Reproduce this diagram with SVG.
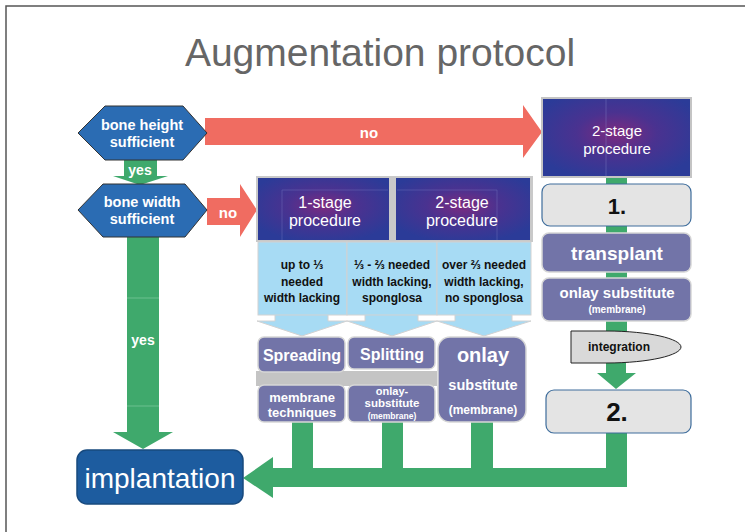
<svg xmlns="http://www.w3.org/2000/svg" width="745" height="532" viewBox="0 0 745 532">
<defs>
<radialGradient id="proc" cx="50%" cy="45%" r="60%">
<stop offset="0" stop-color="#7d2a7f"/>
<stop offset="0.45" stop-color="#4a3290"/>
<stop offset="1" stop-color="#2b3b98"/>
</radialGradient>
</defs>
<style>
text{font-family:"Liberation Sans",Arial,Helvetica,sans-serif;text-anchor:middle;dominant-baseline:central}
.w{fill:#fff;font-weight:bold}
.wn{fill:#fff}
.k{fill:#111;font-weight:bold}
.hex{fill:#2b6cb3;stroke:#333;stroke-width:1}
.green{fill:#3fa96c}
.red{fill:#f06c61}
.proc{fill:url(#proc);stroke:#c4c4c4;stroke-width:2}
.mod{fill:#7274a8;stroke:#d6d6d6;stroke-width:1.5}
.step{fill:#e4e4e4;stroke:#3e6d9c;stroke-width:1.2}
.col{fill:#a7dbf4;stroke:#d2d2d2;stroke-width:1}
</style>
<rect width="745" height="532" fill="#fff"/>
<path d="M6,532 V6 H745" fill="none" stroke="#555" stroke-width="1.5"/>
<text x="380" y="52" style="font-size:39px;fill:#666">Augmentation protocol</text>

<g id="connectors">
<polygon class="red" points="205,118 523,118 523,105 542,132 523,158 523,145 205,145"/>
<text class="w" x="369" y="132" style="font-size:15px">no</text>
<polygon class="green" points="124,160 157,160 157,176 168,176 140,185 113,176 124,176"/>
<text class="w" x="140" y="170" style="font-size:14px">yes</text>
<polygon class="red" points="207,198 240,198 240,184 257,210 240,237 240,225 207,225"/>
<text class="w" x="228" y="212" style="font-size:15px">no</text>
<polygon class="green" points="127,237 159,237 159,432 173,432 143,449 113,432 127,432"/>
<g stroke="#6cc08f" stroke-width="1"><line x1="127" y1="298" x2="159" y2="298"/><line x1="127" y1="406" x2="159" y2="406"/></g>
<text class="w" x="143" y="340" style="font-size:14px">yes</text>
<rect class="green" x="606" y="177" width="21" height="155"/>
<polygon class="green" points="606,362 626,362 626,373 636,373 616,389 597,373 606,373"/>
<rect class="green" x="292" y="420" width="21" height="49"/>
<rect class="green" x="382" y="420" width="21" height="49"/>
<rect class="green" x="471" y="420" width="22" height="49"/>
<rect class="green" x="606" y="432" width="21" height="55"/>
<rect class="green" x="272" y="468" width="355" height="19"/>
<polygon class="green" points="273,457 273,498 243,478"/>
</g>

<g id="bone-height">
<polygon class="hex" points="78,133 105,106 183,106 207,133 183,160 105,160"/>
<text class="w" x="142" y="125" style="font-size:14.5px">bone height</text>
<text class="w" x="142" y="142" style="font-size:14.5px">sufficient</text>
</g>

<g id="bone-width">
<polygon class="hex" points="78,210 103,184 185,184 207,210 185,237 103,237"/>
<text class="w" x="142" y="202" style="font-size:14.5px">bone width</text>
<text class="w" x="142" y="219" style="font-size:14.5px">sufficient</text>
</g>

<g id="two-stage-top">
<rect class="proc" x="542" y="98" width="149" height="79"/>
<line x1="606" y1="99" x2="606" y2="176" stroke="#8a8fd0" stroke-width="0.6" opacity="0.6"/>
<text class="wn" x="617" y="130" style="font-size:15px">2-stage</text>
<text class="wn" x="617" y="148" style="font-size:15px">procedure</text>
</g>

<g id="step1">
<rect class="step" x="542" y="184" width="149" height="42" rx="8"/>
<text class="k" x="617" y="206" style="font-size:22px">1.</text>
</g>

<g id="transplant">
<rect class="mod" x="542" y="233" width="149" height="39" rx="7"/>
<text class="w" x="617" y="253" style="font-size:19px">transplant</text>
</g>

<g id="onlay-right">
<rect class="mod" x="542" y="278" width="149" height="43" rx="7"/>
<text class="w" x="617" y="292" style="font-size:15px">onlay substitute</text>
<text class="w" x="617" y="309" style="font-size:10px">(membrane)</text>
</g>

<g id="integration">
<path d="M571,331 H606 C650,331 681,339 681,347 C681,355 650,363 606,363 H571 Z" fill="#d9d9d9" stroke="#222" stroke-width="1"/>
<text class="k" x="619" y="347" style="font-size:12px">integration</text>
</g>

<g id="step2">
<rect class="step" x="546" y="390" width="145" height="43" rx="8"/>
<text class="k" x="617" y="412" style="font-size:26px">2.</text>
</g>

<g id="procedure-header">
<rect x="256" y="176" width="277" height="66" fill="#c9c9c9"/>
<rect x="258" y="178" width="131" height="62" fill="url(#proc)"/>
<rect x="396" y="178" width="134" height="62" fill="url(#proc)"/>
<g stroke="#8a8fd0" stroke-width="0.6" fill="none" opacity="0.5"><path d="M282,240 V190 H388"/><path d="M397,190 H497 V240"/></g>
<text class="wn" x="325" y="202" style="font-size:16px">1-stage</text>
<text class="wn" x="325" y="220" style="font-size:16px">procedure</text>
<text class="wn" x="462" y="202" style="font-size:16px">2-stage</text>
<text class="wn" x="462" y="220" style="font-size:16px">procedure</text>
</g>

<g id="col1">
<path class="col" d="M275,314 H328 V321 H347 L302,336 L257,321 H275 Z"/>
<rect class="col" x="258" y="242" width="89" height="73"/>
<text class="k" x="302" y="265" style="font-size:12px">up to ⅓</text>
<text class="k" x="302" y="282" style="font-size:12px">needed</text>
<text class="k" x="302" y="298" style="font-size:12px">width lacking</text>
</g>

<g id="col2">
<path class="col" d="M365,314 H418 V321 H437 L392,336 L347,321 H365 Z"/>
<rect class="col" x="347" y="242" width="90" height="73"/>
<text class="k" x="392" y="265" style="font-size:12px">⅓ - ⅔ needed</text>
<text class="k" x="392" y="282" style="font-size:12px">width lacking,</text>
<text class="k" x="392" y="298" style="font-size:12px">sponglosa</text>
</g>

<g id="col3">
<path class="col" d="M455,314 H512 V321 H531 L484,336 L437,321 H455 Z"/>
<rect class="col" x="437" y="242" width="94" height="73"/>
<text class="k" x="484" y="265" style="font-size:12px">over ⅔ needed</text>
<text class="k" x="484" y="282" style="font-size:12px">width lacking,</text>
<text class="k" x="484" y="298" style="font-size:12px">no sponglosa</text>
</g>

<rect x="256" y="371" width="181" height="15" fill="#c4c4c4"/>

<g id="spreading">
<rect class="mod" x="258" y="337" width="87" height="35" rx="6"/>
<text class="w" x="302" y="355" style="font-size:16px">Spreading</text>
<rect class="mod" x="258" y="385" width="87" height="37" rx="6"/>
<text class="w" x="302" y="397" style="font-size:13px">membrane</text>
<text class="w" x="302" y="412" style="font-size:13px">techniques</text>
</g>

<g id="splitting">
<rect class="mod" x="348" y="337" width="87" height="32" rx="6"/>
<text class="w" x="392" y="354" style="font-size:16px">Splitting</text>
<rect class="mod" x="348" y="385" width="87" height="37" rx="6"/>
<text class="w" x="392" y="391" style="font-size:11px">onlay-</text>
<text class="w" x="392" y="403" style="font-size:11.5px">substitute</text>
<text class="w" x="392" y="416" style="font-size:8.5px">(membrane)</text>
</g>

<g id="onlay-mid">
<rect class="mod" x="438" y="337" width="88" height="85" rx="12"/>
<text class="w" x="483" y="355" style="font-size:20px">onlay</text>
<text class="w" x="483" y="385" style="font-size:14.5px">substitute</text>
<text class="w" x="483" y="410" style="font-size:12px">(membrane)</text>
</g>

<g id="implantation">
<rect x="77" y="450" width="166" height="54" rx="10" fill="#1d5c9f" stroke="#17497e" stroke-width="1.5"/>
<text class="wn" x="160" y="478" style="font-size:28px">implantation</text>
</g>
</svg>
